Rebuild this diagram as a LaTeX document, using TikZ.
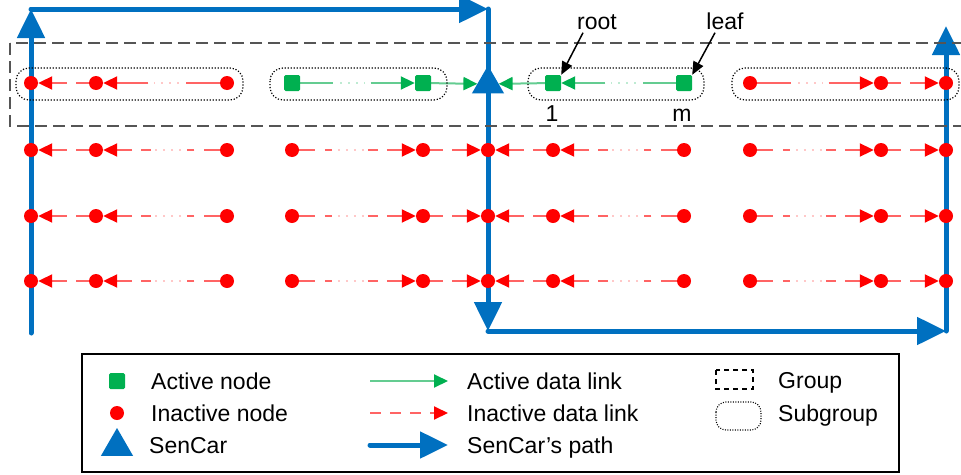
\documentclass[tikz,border=0pt]{standalone}
\usepackage{fontspec}
\setmainfont{Liberation Sans}
\usetikzlibrary{arrows.meta,calc,shapes.geometric}

\definecolor{carblue}{RGB}{0,112,192}
\definecolor{actgreen}{RGB}{0,176,80}
\definecolor{linkgreen}{RGB}{100,204,145}
\definecolor{linkred}{RGB}{255,100,100}
\definecolor{dotred}{RGB}{255,200,200}
\definecolor{dotgreen}{RGB}{190,235,210}
\definecolor{groupgray}{RGB}{85,85,85}

\pgfdeclarelayer{linklayer}
\pgfdeclarelayer{pathlayer}
\pgfsetlayers{linklayer,pathlayer,main}

\tikzset{
  inact/.style={circle,fill=red,inner sep=0pt,minimum size=14pt},
  act/.style={rectangle,fill=actgreen,inner sep=0pt,minimum size=16pt,rounded corners=1.5pt},
  car/.style={regular polygon,regular polygon sides=3,fill=carblue,inner sep=0pt,outer sep=0pt,minimum size=37pt},
  redtip/.style={-{Triangle[length=14pt,width=13pt,color=red]}},
  greentip/.style={-{Triangle[length=14pt,width=13pt,color=actgreen]}},
  rline/.style={draw=linkred,line width=2pt},
  gline/.style={draw=linkgreen,line width=2pt},
  rdots/.style={draw=dotred,line width=2pt,dash pattern=on 2pt off 6pt},
  gdots/.style={draw=dotgreen,line width=2pt,dash pattern=on 2pt off 6pt},
  sencarpath/.style={draw=carblue,line width=5pt,line cap=round,-{Triangle[length=29pt,width=27pt]}},
  grp/.style={draw=groupgray,line width=1.5pt,dash pattern=on 12pt off 6pt},
  subgrp/.style={draw=black,line width=1.2pt,dash pattern=on 1.2pt off 1.8pt,rounded corners=13pt},
  txt/.style={inner sep=0pt,anchor=base west},
  pointer/.style={draw=black,line width=1.5pt,-{Triangle[length=13pt,width=11pt]}},
}

% short link: one dash near the source, then the arrow segment
\newcommand\shortlink[4]{%
  \draw[#1] (#3) -- ($(#3)!0.31!(#4)$);
  \draw[#1,#2] ($(#3)!0.45!(#4)$) -- (#4);}
% long dashed link with a dotted break in the middle
\newcommand\longdash[5]{%
  \draw[#1] (#4) -- ($(#4)!0.176!(#5)$);
  \draw[#1] ($(#4)!0.25!(#5)$) -- ($(#4)!0.305!(#5)$);
  \draw[#2] ($(#4)!0.35!(#5)$) -- ($(#4)!0.55!(#5)$);
  \draw[#1] ($(#4)!0.58!(#5)$) -- ($(#4)!0.66!(#5)$);
  \draw[#1,#3] ($(#4)!0.725!(#5)$) -- (#5);}
% long solid link with a dotted break in the middle
\newcommand\longsolid[5]{%
  \draw[#1] (#4) -- ($(#4)!0.31!(#5)$);
  \draw[#2] ($(#4)!0.37!(#5)$) -- ($(#4)!0.56!(#5)$);
  \draw[#1,#3] ($(#4)!0.6!(#5)$) -- (#5);}

\begin{document}
\begin{tikzpicture}[x=1pt,y=-1pt,font=\fontsize{23}{27}\selectfont]
\useasboundingbox (0,0) rectangle (961,474);

% ---- sensor nodes, first row (the group being served)
\node[inact] (n1-1) at (31,83) {};
\node[inact] (n1-2) at (96,83) {};
\node[inact] (n1-3) at (227,83) {};
\node[act]   (n1-4) at (292,83) {};
\node[act]   (n1-5) at (423,83) {};
\node[car]   (car)  at (488,84) {};
\node[act]   (n1-7) at (553,83) {};
\node[act]   (n1-8) at (684,83) {};
\node[inact] (n1-9) at (750,83) {};
\node[inact] (n1-10) at (881,83) {};
\node[inact] (n1-11) at (946,83) {};

% ---- remaining rows of inactive nodes
\foreach \r/\y in {2/150,3/216,4/281}
  \foreach \c/\x in {1/31,2/96,3/227,4/292,5/423,6/488,7/553,8/684,9/750,10/881,11/946}
    \node[inact] (n\r-\c) at (\x,\y) {};

% ---- data links
\begin{pgfonlayer}{linklayer}
  \shortlink{rline}{redtip}{n1-2}{n1-1}
  \longsolid{rline}{rdots}{redtip}{n1-3}{n1-2}
  \longsolid{gline}{gdots}{greentip}{n1-4}{n1-5}
  \draw[gline,greentip] (n1-5) -- (car);
  \draw[gline,greentip] (n1-7) -- (car);
  \longsolid{gline}{gdots}{greentip}{n1-8}{n1-7}
  \longsolid{rline}{rdots}{redtip}{n1-9}{n1-10}
  \shortlink{rline}{redtip}{n1-10}{n1-11}
  \foreach \r in {2,3,4}{
    \shortlink{rline}{redtip}{n\r-2}{n\r-1}
    \longdash{rline}{rdots}{redtip}{n\r-3}{n\r-2}
    \longdash{rline}{rdots}{redtip}{n\r-4}{n\r-5}
    \shortlink{rline}{redtip}{n\r-5}{n\r-6}
    \shortlink{rline}{redtip}{n\r-7}{n\r-6}
    \longdash{rline}{rdots}{redtip}{n\r-8}{n\r-7}
    \longdash{rline}{rdots}{redtip}{n\r-9}{n\r-10}
    \shortlink{rline}{redtip}{n\r-10}{n\r-11}
  }
\end{pgfonlayer}

% ---- SenCar's path
\coordinate (p0) at (31,333);
\coordinate (p1) at (31,9);
\coordinate (p2) at (488,9);
\coordinate (p3) at (488,331);
\coordinate (p4) at (946,331);
\coordinate (p5) at (946,26);
\begin{pgfonlayer}{pathlayer}
  \draw[sencarpath] (p0) -- (p1);
  \draw[sencarpath] (p1) -- (p2);
  \draw[sencarpath] (p2) -- (p3);
  \draw[sencarpath] (p3) -- (p4);
  \draw[sencarpath] (p4) -- (p5);
\end{pgfonlayer}

% ---- group and subgroups
\begin{scope}
  \clip (0,0) rectangle (961,474);
  \draw[grp] (10,43) rectangle (980,126);
\end{scope}
\draw[subgrp] (16,68) rectangle (243,100);
\draw[subgrp] (270,68) rectangle (447,100);
\draw[subgrp] (528,68) rectangle (704,100);
\draw[subgrp] (732,68) rectangle (959,100);

% ---- annotations
\node[txt,anchor=base] (rootlbl) at (597,29.3) {root};
\node[txt,anchor=base] (leaflbl) at (725,29.3) {leaf};
\draw[pointer] ([shift={(-14,3)}]rootlbl.south) -- (n1-7.north east);
\draw[pointer] ([shift={(-10,3)}]leaflbl.south) -- (n1-8.north east);
\node[txt,anchor=base] (firstlbl) at (552,121.7) {1};
\node[txt,anchor=base] (lastlbl) at (682,121.7) {m};

% ---- legend
\draw[black,line width=1.3pt] (82,354) rectangle (899,472);
\node[act] (legact) at (117,381) {};
\node[inact] (leginact) at (117,413) {};
\node[car] (legcar) at (117,446.5) {};
\node[txt] (tact) at (151,389) {Active node};
\node[txt] (tinact) at (151,421.7) {Inactive node};
\node[txt] (tcar) at (149,453) {SenCar};

\coordinate (la0) at (370,381); \coordinate (la1) at (448,381);
\coordinate (lb0) at (370,413); \coordinate (lb1) at (448,413);
\coordinate (lc0) at (370,445); \coordinate (lc1) at (448,445);
\draw[gline,greentip] (la0) -- (la1);
\draw[rline,redtip,dash pattern=on 11pt off 9pt] (lb0) -- (lb1);
\draw[sencarpath,-{Triangle[length=28pt,width=26pt]}] (lc0) -- (lc1);
\node[txt] (tlinka) at (467,389) {Active data link};
\node[txt] (tlinkb) at (467,421.7) {Inactive data link};
\node[txt] (tpath) at (467,453) {SenCar’s path};

\draw[black,line width=1.2pt,dash pattern=on 5pt off 4pt] (716,370) rectangle (753,389);
\node[txt] (tgrp) at (778,388.5) {Group};
\draw[black,line width=1.1pt,dash pattern=on 1pt off 1.5pt,rounded corners=10pt] (716,402) rectangle (761,430);
\node[txt] (tsub) at (778,421.7) {Subgroup};
\end{tikzpicture}
\end{document}
